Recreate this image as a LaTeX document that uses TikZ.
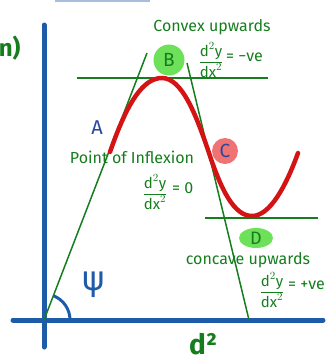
\documentclass[tikz,border=0pt]{standalone}
\usepackage{fontspec}
\usetikzlibrary{shapes.geometric}
\setmainfont{Fira Sans}
\newfontfamily\symfont{DejaVu Sans}
\definecolor{pen}{RGB}{22,125,30}
\definecolor{axisblue}{RGB}{30,92,170}
\definecolor{curvered}{RGB}{212,20,20}
\definecolor{blobgreen}{RGB}{110,225,90}
\definecolor{blobpink}{RGB}{240,115,115}
\definecolor{letterblue}{RGB}{40,70,160}
\tikzset{
  axisline/.style={draw=axisblue,line width=5pt,line cap=round},
  penline/.style={draw=pen,line width=1.5pt},
  pentext/.style={text=pen,inner sep=0pt,font=\fontsize{16}{17}\selectfont},
  fractext/.style={text=pen,inner sep=0pt,font=\fontsize{15}{16}\selectfont},
  blob/.style={circle,fill=#1,inner sep=0pt},
}
\newcommand{\dd}[1]{$\displaystyle\frac{\mbox{d}^2\mbox{y}}{\mbox{dx}^2}$}
\begin{document}
\begin{tikzpicture}[x=1pt,y=-1pt]
\useasboundingbox (0,0) rectangle (325,362);
% faint strip at the top
\draw[axisblue!40,line width=2pt] (55,0.5) -- (150,0.5);
% axes
\coordinate (O) at (44,320);
\coordinate (ytop) at (44,25);
\coordinate (ybot) at (44,347);
\coordinate (xleft) at (13,320);
\coordinate (xright) at (323,320);
\draw[axisline] (ybot) -- (ytop);
\draw[axisline] (xleft) -- (xright);
% angle arc
\draw[axisblue,line width=3pt] (70,320) arc[start angle=0,end angle=-69,radius=26];
% green lines
\coordinate (l1top) at (147,53);
\coordinate (l2top) at (187,63);
\coordinate (l2bot) at (249,320);
\coordinate (h1a) at (77,78);
\coordinate (h1b) at (268,78);
\coordinate (h2a) at (205,218);
\coordinate (h2b) at (318,218);
\draw[penline] (O) -- (l1top);
\draw[penline] (l2top) -- (l2bot);
\draw[penline] (h1a) -- (h1b);
\draw[penline] (h2a) -- (h2b);
% red curve
\draw[curvered,line width=4.5pt,line cap=round]
  (110,152) .. controls (128,100) and (144,78) .. (162,78)
  .. controls (182,78) and (196,115) .. (208,150)
  .. controls (221,190) and (234,216) .. (252,216)
  .. controls (270,216) and (286,186) .. (298,153);
% blobs and letters
\node[blob=blobgreen,minimum size=31pt] (Bb) at (169,60) {};
\node[text=pen,font=\fontsize{19}{19}\selectfont] (B) at (Bb) {B};
\node[blob=blobpink,minimum size=26pt] (Cb) at (225,151) {};
\node[text=letterblue,font=\fontsize{19}{19}\selectfont] (C) at (Cb) {C};
\node[ellipse,fill=blobgreen,minimum width=34pt,minimum height=20pt,inner sep=0pt] (Db) at (256,238) {};
\node[text=pen,font=\fontsize{18}{18}\selectfont] (D) at (Db) {D};
\node[text=letterblue,font=\fontsize{20}{20}\selectfont] (A) at (97,128) {A};
% texts
\node[pentext] (convex) at (212,27) {Convex upwards};
\node[fractext] (f1) at (211,60) {\dd{}};
\node[pentext,anchor=west] (f1r) at (226,57) {= −ve};
\node[pentext] (poi) at (132,157) {Point of Inflexion};
\node[fractext] (f2) at (155,192) {\dd{}};
\node[pentext,anchor=west] (f2r) at (172,188) {= 0};
\node[pentext] (concave) at (248,260) {concave upwards};
\node[fractext] (f3) at (272,290) {\dd{}};
\node[pentext,anchor=west] (f3r) at (288,285) {= +ve};
\node[text=axisblue,font=\symfont\fontsize{34}{34}\selectfont] (psi) at (94,285) {ψ};
\node[text=pen,font=\bfseries\fontsize{28}{28}\selectfont] (d2) at (203,344) {d²};
\node[text=pen,font=\bfseries\fontsize{24}{24}\selectfont,anchor=east] (n) at (24,48) {n)};
\end{tikzpicture}
\end{document}
